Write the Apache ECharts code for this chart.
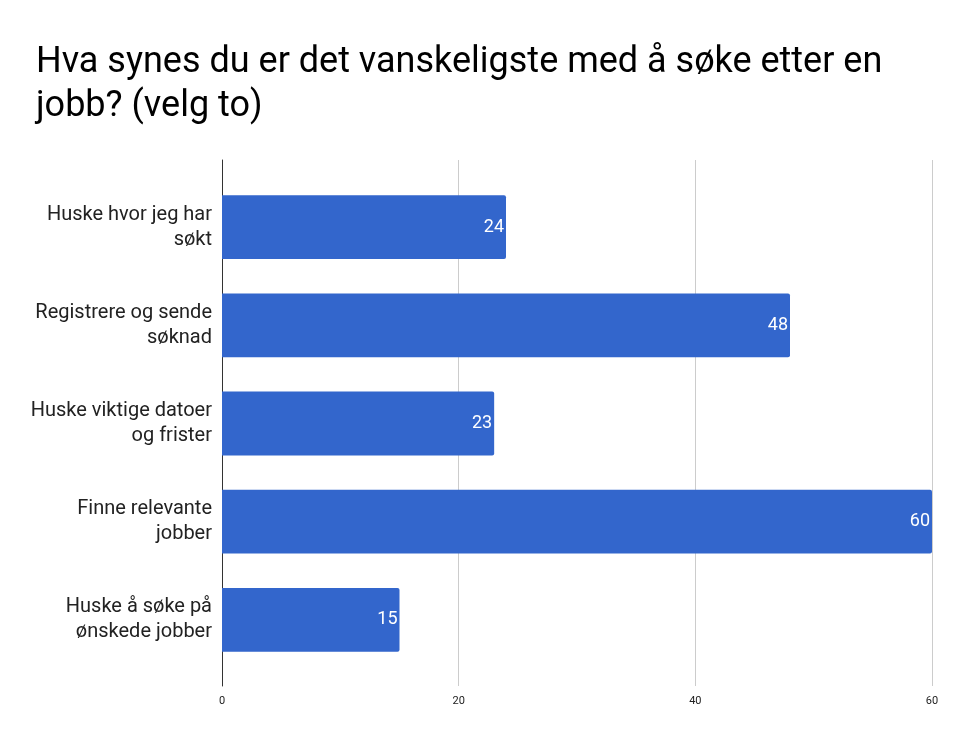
<!DOCTYPE html>
<html>
<head>
<meta charset="utf-8">
<script src="https://cdn.jsdelivr.net/npm/echarts@6/dist/echarts.min.js"></script>
<style>
  html, body { margin: 0; padding: 0; background: #fff; }
  #chart { width: 970px; height: 742px; }
</style>
</head>
<body>
<div id="chart"></div>
<script>
const categories = [
  'Huske hvor jeg har\nsøkt',
  'Registrere og sende\nsøknad',
  'Huske viktige datoer\nog frister',
  'Finne relevante\njobber',
  'Huske å søke på\nønskede jobber'
]
const values = [24, 48, 23, 60, 15]
const xTicks = [0, 20, 40, 60]

const myChart = echarts.init(document.getElementById('chart'))
myChart.setOption({
  animation: false,
  textStyle: { fontFamily: 'Roboto' },
  title: {
    text: 'Hva synes du er det vanskeligste med å søke etter en\njobb? (velg to)',
    left: 31,
    top: 36,
    textStyle: {
      fontFamily: 'Roboto',
      fontSize: 36,
      fontWeight: 'normal',
      color: '#000',
      lineHeight: 44
    }
  },
  // grid 0 carries the gridlines and axis line, grid 1 the bars
  grid: [
    { left: 222, right: 38, top: 160, bottom: 56 },
    { left: 222, right: 38, top: 178, bottom: 73 }
  ],
  xAxis: [{
    type: 'value',
    gridIndex: 0,
    min: xTicks[0],
    max: xTicks[xTicks.length - 1],
    interval: 20,
    axisLine: { show: false },
    axisTick: { show: false },
    axisLabel: { fontSize: 11, color: '#222', margin: 10 },
    splitLine: { lineStyle: { color: '#cccccc', width: 1 } }
  }, {
    type: 'value',
    gridIndex: 1,
    min: xTicks[0],
    max: xTicks[xTicks.length - 1],
    interval: 20,
    show: false
  }],
  yAxis: [{
    type: 'value',
    gridIndex: 0,
    min: 0,
    max: 1,
    axisLine: { show: true, lineStyle: { color: '#333', width: 1 } },
    axisTick: { show: false },
    axisLabel: { show: false },
    splitLine: { show: false }
  }, {
    type: 'category',
    gridIndex: 1,
    inverse: true,
    data: categories,
    axisLine: { show: false },
    axisTick: { show: false },
    axisLabel: { fontSize: 20, color: '#222', lineHeight: 25, margin: 10, align: 'right' }
  }],
  series: [{
    type: 'bar',
    xAxisIndex: 1,
    yAxisIndex: 1,
    data: values,
    barCategoryGap: '35%',
    itemStyle: { color: '#3366cc', borderRadius: [0, 2, 2, 0] },
    label: {
      show: true,
      position: 'insideRight',
      distance: 2,
      color: '#fff',
      fontSize: 18
    }
  }]
})
</script>
</body>
</html>
